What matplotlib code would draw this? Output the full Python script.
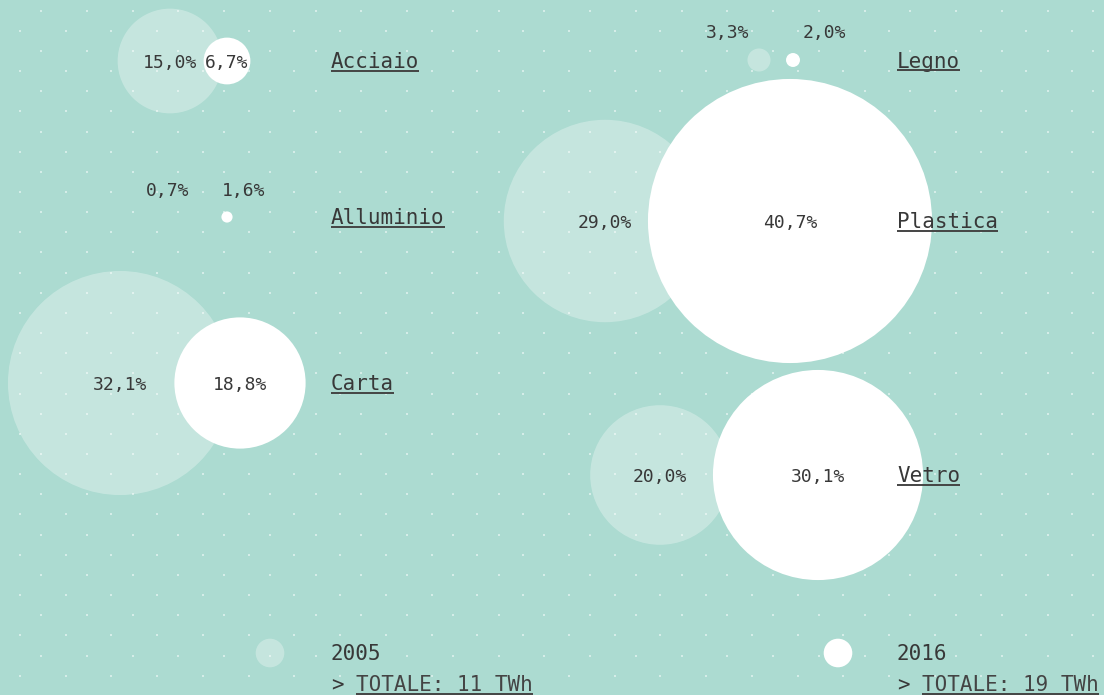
import matplotlib
matplotlib.use("Agg")
from matplotlib import pyplot as plt
from matplotlib.patches import Circle
import numpy

# share of energy recovered per material (%)
categories = ["Acciaio", "Alluminio", "Carta", "Legno", "Plastica", "Vetro"]
share_2005 = [15.0, 0.7, 32.1, 3.3, 29.0, 20.0]
share_2016 = [6.7, 1.6, 18.8, 2.0, 40.7, 30.1]
years = ["2005", "2016"]
totals_twh = [11, 19]

# layout (pixels)
row_y = [61, 217, 383, 60, 221, 475]
label_x = [331, 331, 331, 897, 897, 897]
x_2005 = [170, 227, 120, 759, 605, 660]
x_2016 = [227, 227, 240, 793, 790, 818]
small_label_x = {"Alluminio": (168, 244), "Legno": (728, 824)}
px_per_pct = 3.49

BG = "#acdbd1"
TXT = "#383838"
FONT = "DejaVu Sans Mono"
W, H = 1104, 695

fig = plt.figure(figsize=(W / 100, H / 100), dpi=100)
fig.patch.set_facecolor(BG)
ax = fig.add_axes([0, 0, 1, 1])
ax.set_xlim(0, W)
ax.set_ylim(H, 0)
ax.axis("off")

# staggered dot grid
dx, dy = 45.75, 20.15
gx, gy = [], []
for j in range(36):
    y = 10.7 + j * dy
    x0 = 41.0 if j % 2 == 0 else 19.8
    for x in numpy.arange(x0, W, dx):
        gx.append(x)
        gy.append(y)
ax.scatter(gx, gy, s=2.5, marker="s", color="white", alpha=0.5, linewidths=0, zorder=1)


def fmt(v):
    return ("%.1f%%" % v).replace(".", ",")


def underline(txt, y):
    fig.canvas.draw()
    bb = txt.get_window_extent().transformed(ax.transData.inverted())
    ax.plot([bb.x0, bb.x1], [y, y], color="#444444", lw=1.4, zorder=6,
            solid_capstyle="butt")


for i, cat in enumerate(categories):
    y = row_y[i]
    r05 = share_2005[i] * px_per_pct
    r16 = share_2016[i] * px_per_pct
    ax.add_patch(Circle((x_2005[i], y), r05, facecolor="white", alpha=0.3,
                        edgecolor="none", zorder=2))
    ax.add_patch(Circle((x_2016[i], y), r16, facecolor="white",
                        edgecolor="none", zorder=3))
    if cat in small_label_x:
        lx05, lx16 = small_label_x[cat]
        ly = y - 28
    else:
        lx05, lx16 = x_2005[i], x_2016[i]
        ly = y
    ax.text(lx05, ly + 6.5, fmt(share_2005[i]), ha="center", va="baseline",
            fontsize=13, family=FONT, color=TXT, zorder=5)
    ax.text(lx16, ly + 6.5, fmt(share_2016[i]), ha="center", va="baseline",
            fontsize=13, family=FONT, color=TXT, zorder=5)
    t = ax.text(label_x[i], y + 7.5, cat, ha="left", va="baseline",
                fontsize=15, family=FONT, color=TXT, zorder=5)
    underline(t, y + 10)

# legend
leg_circle_x = [270, 838]
leg_text_x = [331, 897]
for k, yr in enumerate(years):
    if k == 0:
        ax.add_patch(Circle((leg_circle_x[k], 653), 14.3, facecolor="white",
                            alpha=0.3, edgecolor="none", zorder=2))
    else:
        ax.add_patch(Circle((leg_circle_x[k], 653), 14.3, facecolor="white",
                            edgecolor="none", zorder=3))
    ax.text(leg_text_x[k], 660, yr, ha="left", va="baseline", fontsize=15,
            family=FONT, color=TXT, zorder=5)
    ax.text(leg_text_x[k], 691, ">", ha="left", va="baseline", fontsize=15,
            family=FONT, color=TXT, zorder=5)
    t = ax.text(leg_text_x[k] + 25, 691, "TOTALE: %d TWh" % totals_twh[k],
                ha="left", va="baseline", fontsize=15, family=FONT,
                color="#444444", zorder=5)
    underline(t, 693.5)

fig.savefig("out.png", dpi=100, facecolor=BG)
